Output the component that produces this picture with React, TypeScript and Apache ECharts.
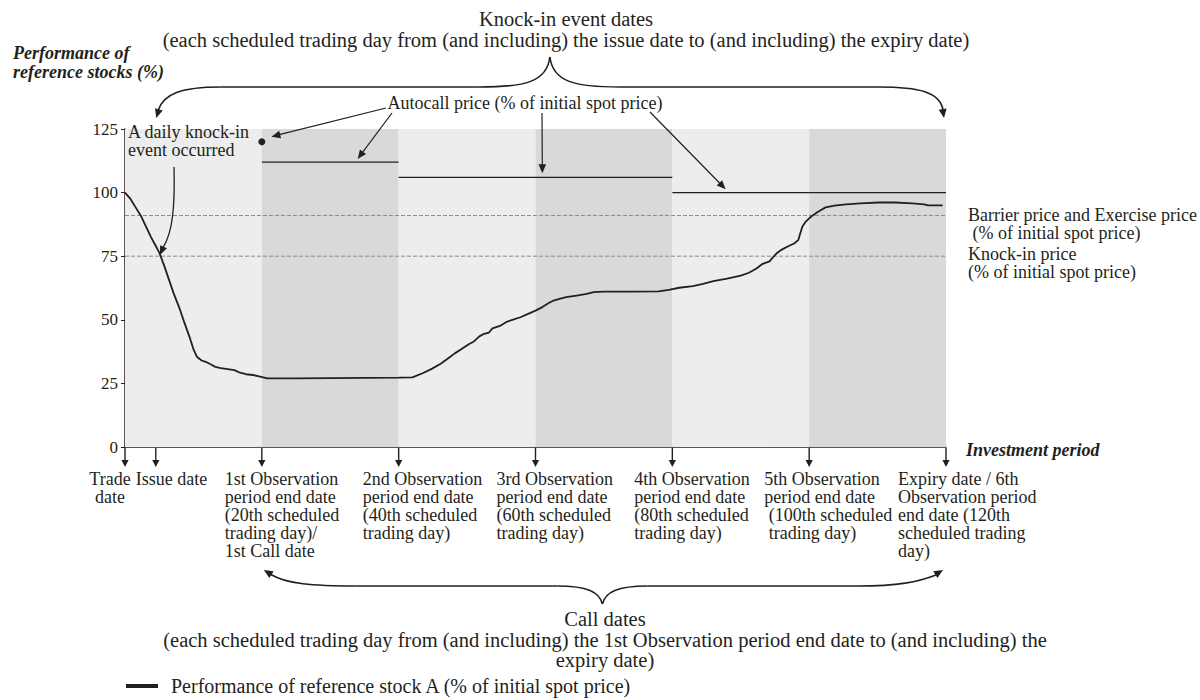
import React, { useEffect, useRef } from "react";
import * as echarts from "echarts";

const FONT = "Liberation Serif, Times New Roman, serif";
const INK = "#231f20";
const LIGHT = "#ededed";
const DARK = "#d8d9db";
const DASH = "#8c8c8c";

// ---- data ----
const stockDays = [
  0, 0.8, 1.6, 2.4, 3.0, 3.8, 4.4, 5.0, 5.7, 6.4, 7.1, 7.9, 8.6, 9.4, 10.0, 10.5, 11.2, 11.8,
  12.5, 13.2, 14.0, 15.0, 16.0, 16.8, 17.7, 18.7, 19.6, 20.8, 25, 30, 35, 40, 42, 43.5, 44.9,
  46.2, 47.4, 48.2, 49.2, 50.3, 51.0, 51.8, 52.5, 53.2, 53.7, 54.8, 55.8, 56.6, 57.8, 59.0,
  60.0, 61.0, 62.0, 62.5, 63.5, 64.5, 66.0, 67.5, 68.5, 70.0, 74.0, 78.0, 79.5, 81.0, 83.0,
  84.5, 86.0, 88.0, 90.0, 91.2, 92.3, 93.2, 94.2, 94.7, 95.3, 96.0, 97.0, 97.8, 98.4, 98.7,
  99.0, 99.5, 100.3, 101.3, 102.4, 103.7, 105.4, 107.5, 110.2, 112.5, 115.1, 116.8, 117.4, 119.5,
];
const stockValues = [
  100, 97.5, 94, 90.5, 87, 82.5, 79.5, 76.5, 71.5, 66, 60.5, 55, 49.5, 43.5, 38.5, 35.5, 34, 33.5,
  32.5, 31.5, 31, 30.6, 30.2, 29.2, 28.6, 28.3, 27.8, 27.0, 27.0, 27.1, 27.2, 27.3, 27.4, 29, 30.8,
  32.8, 35.2, 36.8, 38.5, 40.5, 41.5, 43.5, 44.5, 45, 46.6, 47.6, 49.2, 50, 51, 52.4,
  53.6, 55, 56.7, 57.4, 58.2, 58.9, 59.5, 60.2, 60.9, 61.1, 61.1, 61.2, 61.8, 62.6, 63.2,
  64.1, 65.2, 66.2, 67.4, 68.5, 70.2, 72, 73, 74.5, 76.3, 77.6, 79, 80, 81.3, 84,
  86.6, 88.6, 90.6, 92.5, 94.2, 94.9, 95.4, 95.8, 96.1, 96.1, 95.8, 95.4, 95.0, 95.0,
];
const periodBounds = [0, 20, 40, 60, 80, 100, 120];
const autocallFrom = [20, 40, 80];
const autocallTo = [40, 80, 120];
const autocallLevels = [112, 106, 100];
const autocallDot = [20, 120];
const barrierLevel = 91;
const knockInLevel = 75;
const eventDays = [0, 4.5, 20, 40, 60, 80, 100, 120];
const eventLabels = [
  "Trade\ndate",
  "Issue date",
  "1st Observation\nperiod end date\n(20th scheduled\ntrading day)/\n1st Call date",
  "2nd Observation\nperiod end date\n(40th scheduled\ntrading day)",
  "3rd Observation\nperiod end date\n(60th scheduled\ntrading day)",
  "4th Observation\nperiod end date\n(80th scheduled\ntrading day)",
  "5th Observation\nperiod end date\n (100th scheduled\n trading day)",
  "Expiry date / 6th\nObservation period\nend date (120th\nscheduled trading\nday)",
];
const yMin = 0;
const yMax = 125;
const yStep = 25;
const xMin = 0;
const xMax = 120;
const stockName = "Performance of reference stock A (% of initial spot price)";
// annotation arrow targets (data units) for the autocall label
const autocallTargets = [
  [21.4, 122],
  [34, 113.2],
  [61, 107.6],
  [87.8, 101.3],
];

// ---- layout (pixels) ----
const labelDx = [-15, -20, -37, -36, -39, -38, -45, -48];
const autocallStarts = [
  [386, 108],
  [392, 113],
  [542, 113],
  [650, 112],
];

function buildOption(): any {
  const shade = periodBounds.slice(0, -1).map((b, i) => [
    { xAxis: b, itemStyle: { color: i % 2 === 0 ? LIGHT : DARK } },
    { xAxis: periodBounds[i + 1] },
  ]);
  const flat = (v: number) => [
    [xMin, v],
    [xMax, v],
  ];
  const series: any[] = [
    {
      type: "line",
      data: flat(barrierLevel),
      symbol: "none",
      silent: true,
      lineStyle: { color: DASH, width: 1, type: [4, 2] },
      markArea: { silent: true, data: shade },
      z: 3,
    },
    {
      type: "line",
      data: flat(knockInLevel),
      symbol: "none",
      silent: true,
      lineStyle: { color: DASH, width: 1, type: [4, 2] },
      z: 3,
    },
  ];
  autocallLevels.forEach((lv, i) => {
    series.push({
      type: "line",
      data: [
        [autocallFrom[i], lv],
        [autocallTo[i], lv],
      ],
      symbol: "none",
      silent: true,
      lineStyle: { color: INK, width: 1.3 },
      z: 4,
    });
  });
  series.push({
    type: "scatter",
    data: [autocallDot],
    symbolSize: 7,
    itemStyle: { color: INK, opacity: 1 },
    silent: true,
    z: 5,
  });
  series.push({
    name: stockName,
    type: "line",
    data: stockDays.map((d, i) => [d, stockValues[i]]),
    symbol: "none",
    color: INK,
    lineStyle: { color: INK, width: 1.8 },
    z: 10,
  });

  return {
    animation: false,
    backgroundColor: "#ffffff",
    textStyle: { fontFamily: FONT, color: INK },
    grid: { left: 125, right: 254, top: 129, bottom: 253 },
    legend: {
      data: [stockName],
      left: 126,
      top: 676,
      padding: 0,
      icon: "rect",
      itemWidth: 32,
      itemHeight: 4,
      selectedMode: false,
      textStyle: { fontFamily: FONT, fontSize: 20, color: INK, padding: [0, 0, 0, 8] },
    },
    xAxis: {
      type: "value",
      min: xMin,
      max: xMax,
      axisLine: { show: true, lineStyle: { color: INK, width: 1.5 } },
      axisTick: { show: false },
      axisLabel: { show: false },
      splitLine: { show: false },
    },
    yAxis: {
      type: "value",
      min: yMin,
      max: yMax,
      interval: yStep,
      axisLine: { show: true, lineStyle: { color: INK, width: 1.5 } },
      axisTick: { show: true, length: 4, lineStyle: { color: INK, width: 1 } },
      axisLabel: { fontFamily: FONT, fontSize: 17, color: INK, margin: 7 },
      splitLine: { show: false },
    },
    series,
  };
}

function buildGraphics(chart: any): any[] {
  const P = (x: number, y: number): number[] =>
    chart.convertToPixel({ xAxisIndex: 0, yAxisIndex: 0 }, [x, y]) as number[];
  const g: any[] = [];
  const txt = (text: string, x: number, y: number, extra: any = {}) => ({
    type: "text",
    silent: true,
    z: 20,
    style: {
      text,
      x,
      y,
      fill: INK,
      fontFamily: FONT,
      fontSize: 18,
      align: "left",
      verticalAlign: "top",
      lineHeight: 18,
      ...extra,
    },
  });
  const seg = (x1: number, y1: number, x2: number, y2: number, w = 1.2) => ({
    type: "line",
    silent: true,
    z: 20,
    shape: { x1, y1, x2, y2 },
    style: { stroke: INK, lineWidth: w },
  });
  const bez = (
    x1: number, y1: number, c1x: number, c1y: number,
    c2x: number, c2y: number, x2: number, y2: number, w = 1.6
  ) => ({
    type: "bezierCurve",
    silent: true,
    z: 20,
    shape: { x1, y1, cpx1: c1x, cpy1: c1y, cpx2: c2x, cpy2: c2y, x2, y2 },
    style: { stroke: INK, lineWidth: w, fill: "none" },
  });
  const head = (tx: number, ty: number, dx: number, dy: number, len = 8, half = 3.5) => {
    const L = Math.hypot(dx, dy);
    const ux = dx / L;
    const uy = dy / L;
    const bx = tx - ux * len;
    const by = ty - uy * len;
    return {
      type: "polygon",
      silent: true,
      z: 21,
      shape: {
        points: [
          [tx, ty],
          [bx - uy * half, by + ux * half],
          [bx + uy * half, by - ux * half],
        ],
      },
      style: { fill: INK },
    };
  };

  // event arrows & labels under the axis
  eventDays.forEach((d, i) => {
    const [x, y0] = P(d, 0);
    g.push(seg(x, y0 + 1, x, y0 + 14, 1.4));
    g.push(head(x, y0 + 20, 0, 1, 7, 3.6));
    g.push(txt(eventLabels[i], x + labelDx[i], y0 + 23, { align: i === 0 ? "center" : "left" }));
  });

  const [xEnd, y0] = P(xMax, 0);
  g.push(
    txt("Investment period", xEnd + 20, y0 + 3, {
      fontWeight: "bold",
      fontStyle: "italic",
      verticalAlign: "middle",
    })
  );

  // y-axis name
  g.push(
    txt("Performance of\nreference stocks (%)", 13, 43, {
      fontWeight: "bold",
      fontStyle: "italic",
      lineHeight: 19,
    })
  );

  // top caption and brace
  g.push(
    txt(
      "Knock-in event dates\n(each scheduled trading day from (and including) the issue date to (and including) the expiry date)",
      566,
      9,
      { align: "center", fontSize: 20.5, lineHeight: 20.5 }
    )
  );
  {
    const xL = P(eventDays[1], 0)[0];
    const xR = P(xMax, 0)[0] - 2;
    const xc = (xL + xR) / 2;
    const yH = 87;
    const yT = 57;
    g.push(bez(xL + 2.5, 110, xL + 8, 94, xL + 25, yH, xL + 65, yH));
    g.push(seg(xL + 65, yH, xc - 70, yH, 1.6));
    g.push(bez(xc - 70, yH, xc - 25, yH, xc - 3, yH - 5, xc, yT));
    g.push(bez(xc, yT, xc + 3, yH - 5, xc + 25, yH, xc + 70, yH));
    g.push(seg(xc + 70, yH, xR - 65, yH, 1.6));
    g.push(bez(xR - 65, yH, xR - 25, yH, xR - 4, yH + 5, xR - 1, 110));
    g.push(head(xL + 0.5, 118, -0.3, 1, 9, 4));
    g.push(head(xR, 118, 0.15, 1, 9, 4));
  }

  // bottom caption and brace
  g.push(
    txt(
      "Call dates\n(each scheduled trading day from (and including) the 1st Observation period end date to (and including) the\nexpiry date)",
      605,
      609,
      { align: "center", fontSize: 20.5, lineHeight: 20.5 }
    )
  );
  {
    const xL = P(eventDays[2], 0)[0];
    const xR = P(xMax, 0)[0] - 3;
    const xc = (xL + xR) / 2;
    const yH = 586;
    const yT = 604;
    g.push(head(xL + 2, 570, -1.3, -0.8, 9, 4));
    g.push(bez(xL + 9, 574.5, xL + 25, 584, xL + 50, yH, xL + 95, yH));
    g.push(seg(xL + 95, yH, xc - 45, yH, 1.6));
    g.push(bez(xc - 45, yH, xc - 15, yH, xc - 3, yH + 6, xc, yT));
    g.push(bez(xc, yT, xc + 3, yH + 6, xc + 15, yH, xc + 45, yH));
    g.push(seg(xc + 45, yH, xR - 85, yH, 1.6));
    g.push(bez(xR - 85, yH, xR - 45, yH, xR - 25, 582, xR - 7, 575));
    g.push(head(xR, 570, 1.3, -0.8, 9, 4));
  }

  // autocall label with arrows
  g.push(txt("Autocall price (% of initial spot price)", 525, 103, { align: "center", verticalAlign: "middle" }));
  autocallTargets.forEach((t, i) => {
    const [tx, ty] = P(t[0], t[1]);
    const [sx, sy] = autocallStarts[i];
    const dx = tx - sx;
    const dy = ty - sy;
    const L = Math.hypot(dx, dy);
    g.push(seg(sx, sy, tx - (dx / L) * 6, ty - (dy / L) * 6, 1.2));
    g.push(head(tx, ty, dx, dy, 9, 3.8));
  });

  // knock-in annotation
  g.push(txt("A daily knock-in\nevent occurred", 128, 123));
  {
    const [tx, ty] = P(5.1, 75.5);
    g.push(bez(174, 167, 175, 205, 173, 232, tx + 3, ty - 7, 1.3));
    g.push(head(tx, ty, -0.45, 1, 9, 3.8));
  }

  // right-side level labels
  {
    const yb = P(xMax, barrierLevel)[1];
    const yk = P(xMax, knockInLevel)[1];
    g.push(txt("Barrier price and Exercise price\n (% of initial spot price)", xEnd + 22, yb - 9, { lineHeight: 18 }));
    g.push(txt("Knock-in price\n(% of initial spot price)", xEnd + 22, yk - 11, { lineHeight: 18 }));
  }

  return g;
}

export default function App() {
  const ref = useRef<HTMLDivElement>(null);
  useEffect(() => {
    if (!ref.current) return;
    const chart = echarts.init(ref.current, null, { renderer: "svg" });
    chart.setOption(buildOption());
    chart.setOption({ graphic: buildGraphics(chart) });
    return () => chart.dispose();
  }, []);
  return (
    <div
      ref={ref}
      style={{ position: "fixed", left: 0, top: 0, width: 1200, height: 700, background: "#ffffff" }}
    />
  );
}
